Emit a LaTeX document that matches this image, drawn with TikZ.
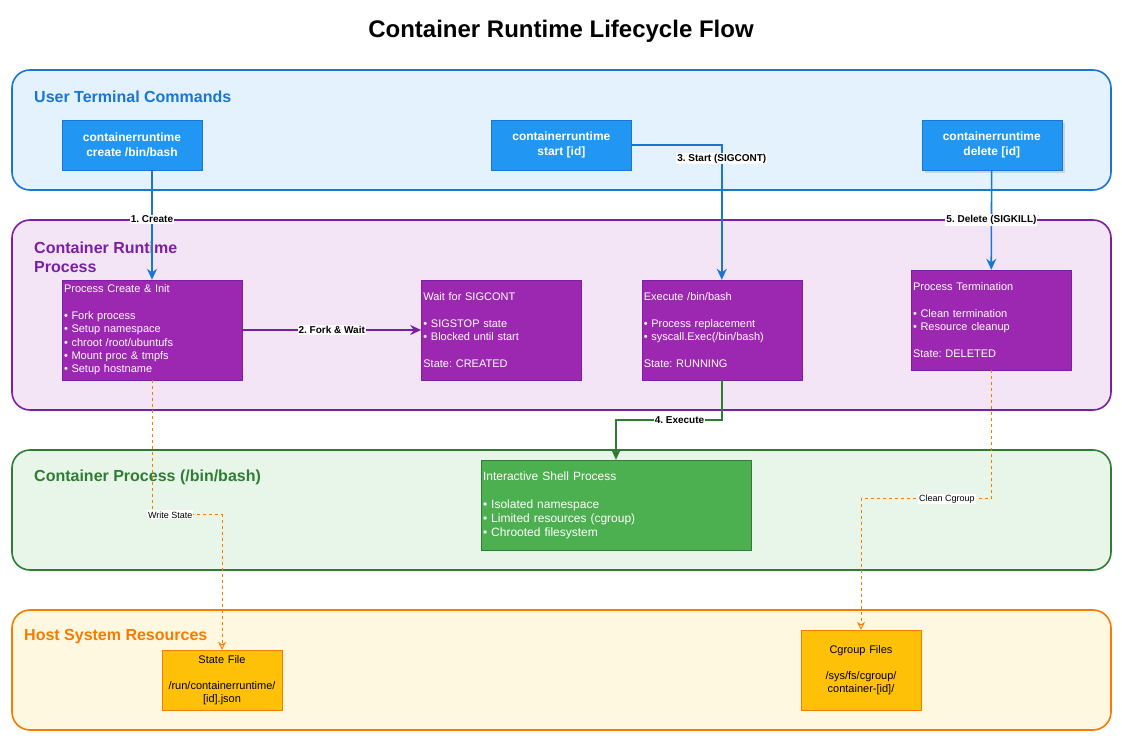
\documentclass[tikz,border=0pt]{standalone}
\usepackage{fontspec}
\setmainfont{Liberation Sans}
\usepackage{tikz}
\usetikzlibrary{positioning,arrows.meta,shadows,calc}
\usepackage{xcolor}

\definecolor{cmdblue}{HTML}{2196F3}
\definecolor{lineblue}{HTML}{1976D2}
\definecolor{laneblue}{HTML}{E3F2FD}
\definecolor{procpurple}{HTML}{9C27B0}
\definecolor{linepurple}{HTML}{7B1FA2}
\definecolor{lanepurple}{HTML}{F3E5F5}
\definecolor{shellgreen}{HTML}{4CAF50}
\definecolor{linegreen}{HTML}{2E7D32}
\definecolor{lanegreen}{HTML}{E8F5E9}
\definecolor{resamber}{HTML}{FFC107}
\definecolor{lineorange}{HTML}{F57C00}
\definecolor{laneorange}{HTML}{FFF8E1}

\frenchspacing

\begin{document}
\begin{tikzpicture}[
        x=1pt, y=-1pt,
        lane/.style={rectangle, rounded corners=18pt, line width=1.6pt, minimum width=1099pt, minimum height=120pt},
        lanetitle/.style={anchor=west, inner sep=0pt, align=left, font=\bfseries\fontsize{16}{19}\selectfont},
        cmd/.style={rectangle, draw=lineblue, fill=cmdblue, text=white, minimum width=140pt, minimum height=50pt, align=center, font=\bfseries\fontsize{12}{15}\selectfont},
        proc/.style={rectangle, draw=linepurple, fill=procpurple, text=white, text width=156pt, inner xsep=2pt, minimum height=100pt, align=left, font=\fontsize{11}{13.3}\selectfont},
        shellbox/.style={rectangle, draw=linegreen, fill=shellgreen, text=white, text width=266pt, inner xsep=2pt, minimum height=90pt, align=left, font=\fontsize{12}{14}\selectfont},
        res/.style={rectangle, draw=lineorange, fill=resamber, text=black, text width=116pt, inner xsep=2pt, align=center, font=\fontsize{11}{13}\selectfont},
        lbl/.style={fill=white, inner sep=1pt, text=black, font=\bfseries\fontsize{10}{11}\selectfont},
        notelbl/.style={fill=white, inner sep=1pt, text=black, font=\fontsize{9}{10}\selectfont},
        arrow/.style={line width=1.6pt, -{Stealth[length=11pt, width=10pt]}},
        dasharrow/.style={line width=0.9pt, draw=lineorange, dash pattern=on 3pt off 3pt, -{Stealth[open, length=8pt, width=8pt]}}
    ]
        \useasboundingbox (0,0) rectangle (1122,741);

        % Title
        \node[font=\bfseries\fontsize{24}{28}\selectfont] (title) at (561,31) {Container Runtime Lifecycle Flow};

        % Lanes
        \node[lane, draw=lineblue, fill=laneblue] (userlane) at (561.5,130) {};
        \node[lane, draw=linepurple, fill=lanepurple, minimum height=190pt] (runlane) at (561.5,315) {};
        \node[lane, draw=linegreen, fill=lanegreen] (bashlane) at (561.5,510) {};
        \node[lane, draw=lineorange, fill=laneorange] (hostlane) at (561.5,670) {};

        \node[lanetitle, text=lineblue] (usertitle) at (34,97) {User Terminal Commands};
        \node[lanetitle, text=linepurple] (runtitle) at (34,257) {Container Runtime\\Process};
        \node[lanetitle, text=linegreen] (bashtitle) at (34,477) {Container Process (/bin/bash)};
        \node[lanetitle, text=lineorange] (hosttitle) at (24,637) {Host System Resources};

        % Commands
        \node[cmd] (create) at (132,145) {containerruntime\\create /bin/bash};
        \node[cmd, right=289pt of create] (start) {containerruntime\\start [id]};
        \node[cmd, right=290pt of start, drop shadow={opacity=0.25, shadow xshift=3pt, shadow yshift=-3pt}] (delete) {containerruntime\\delete [id]};

        % Runtime process
        \node[proc, text width=176pt] (init) at (152,330) {Process Create \& Init\\[13.3pt]• Fork process\\• Setup namespace\\• chroot /root/ubuntufs\\• Mount proc \& tmpfs\\• Setup hostname};
        \node[proc, right=179pt of init] (wait) {Wait for SIGCONT\\[13.3pt]• SIGSTOP state\\• Blocked until start\\[13.3pt]State: CREATED};
        \node[proc, right=60pt of wait] (exec) {Execute /bin/bash\\[13.3pt]• Process replacement\\• syscall.Exec(/bin/bash)\\[13.3pt]State: RUNNING};
        \node[proc] (term) at (991,320) {Process Termination\\[13.3pt]• Clean termination\\• Resource cleanup\\[13.3pt]State: DELETED};

        % Container process
        \node[shellbox] (shell) at (616,505) {Interactive Shell Process\\[14pt]• Isolated namespace\\• Limited resources (cgroup)\\• Chrooted filesystem};

        % Host resources
        \node[res, minimum height=60pt] (statef) at (222,680) {State File\\[13pt]/run/containerruntime/\\{}[id].json};
        \node[res, minimum height=80pt] (cgroup) at (861,670) {Cgroup Files\\[13pt]/sys/fs/cgroup/\\container-[id]/};

        % Arrows
        \draw[arrow, lineblue] (create.south -| init.north) -- node[lbl, pos=0.45] {1. Create} (init.north);
        \draw[arrow, lineblue] (start.east) -| node[lbl, pos=0.55] {3. Start (SIGCONT)} (exec.north);
        \draw[arrow, lineblue] (delete) -- node[lbl] {5. Delete (SIGKILL)} (term);
        \draw[arrow, linepurple] (init) -- node[lbl] {2. Fork \& Wait} (wait);
        \draw[arrow, linegreen] (exec.south) |- node[lbl, pos=0.7] {4. Execute} ($(shell.north)+(0,-40)$) -- (shell.north);
        \draw[dasharrow] (init.south) |- node[notelbl, pos=0.63] {Write State} ($(statef.north)+(0,-135)$) -- (statef.north);
        \draw[dasharrow] (term.south) |- node[notelbl, pos=0.67] {Clean Cgroup} ($(cgroup.north)+(0,-131)$) -- (cgroup.north);
    \end{tikzpicture}
\end{document}
